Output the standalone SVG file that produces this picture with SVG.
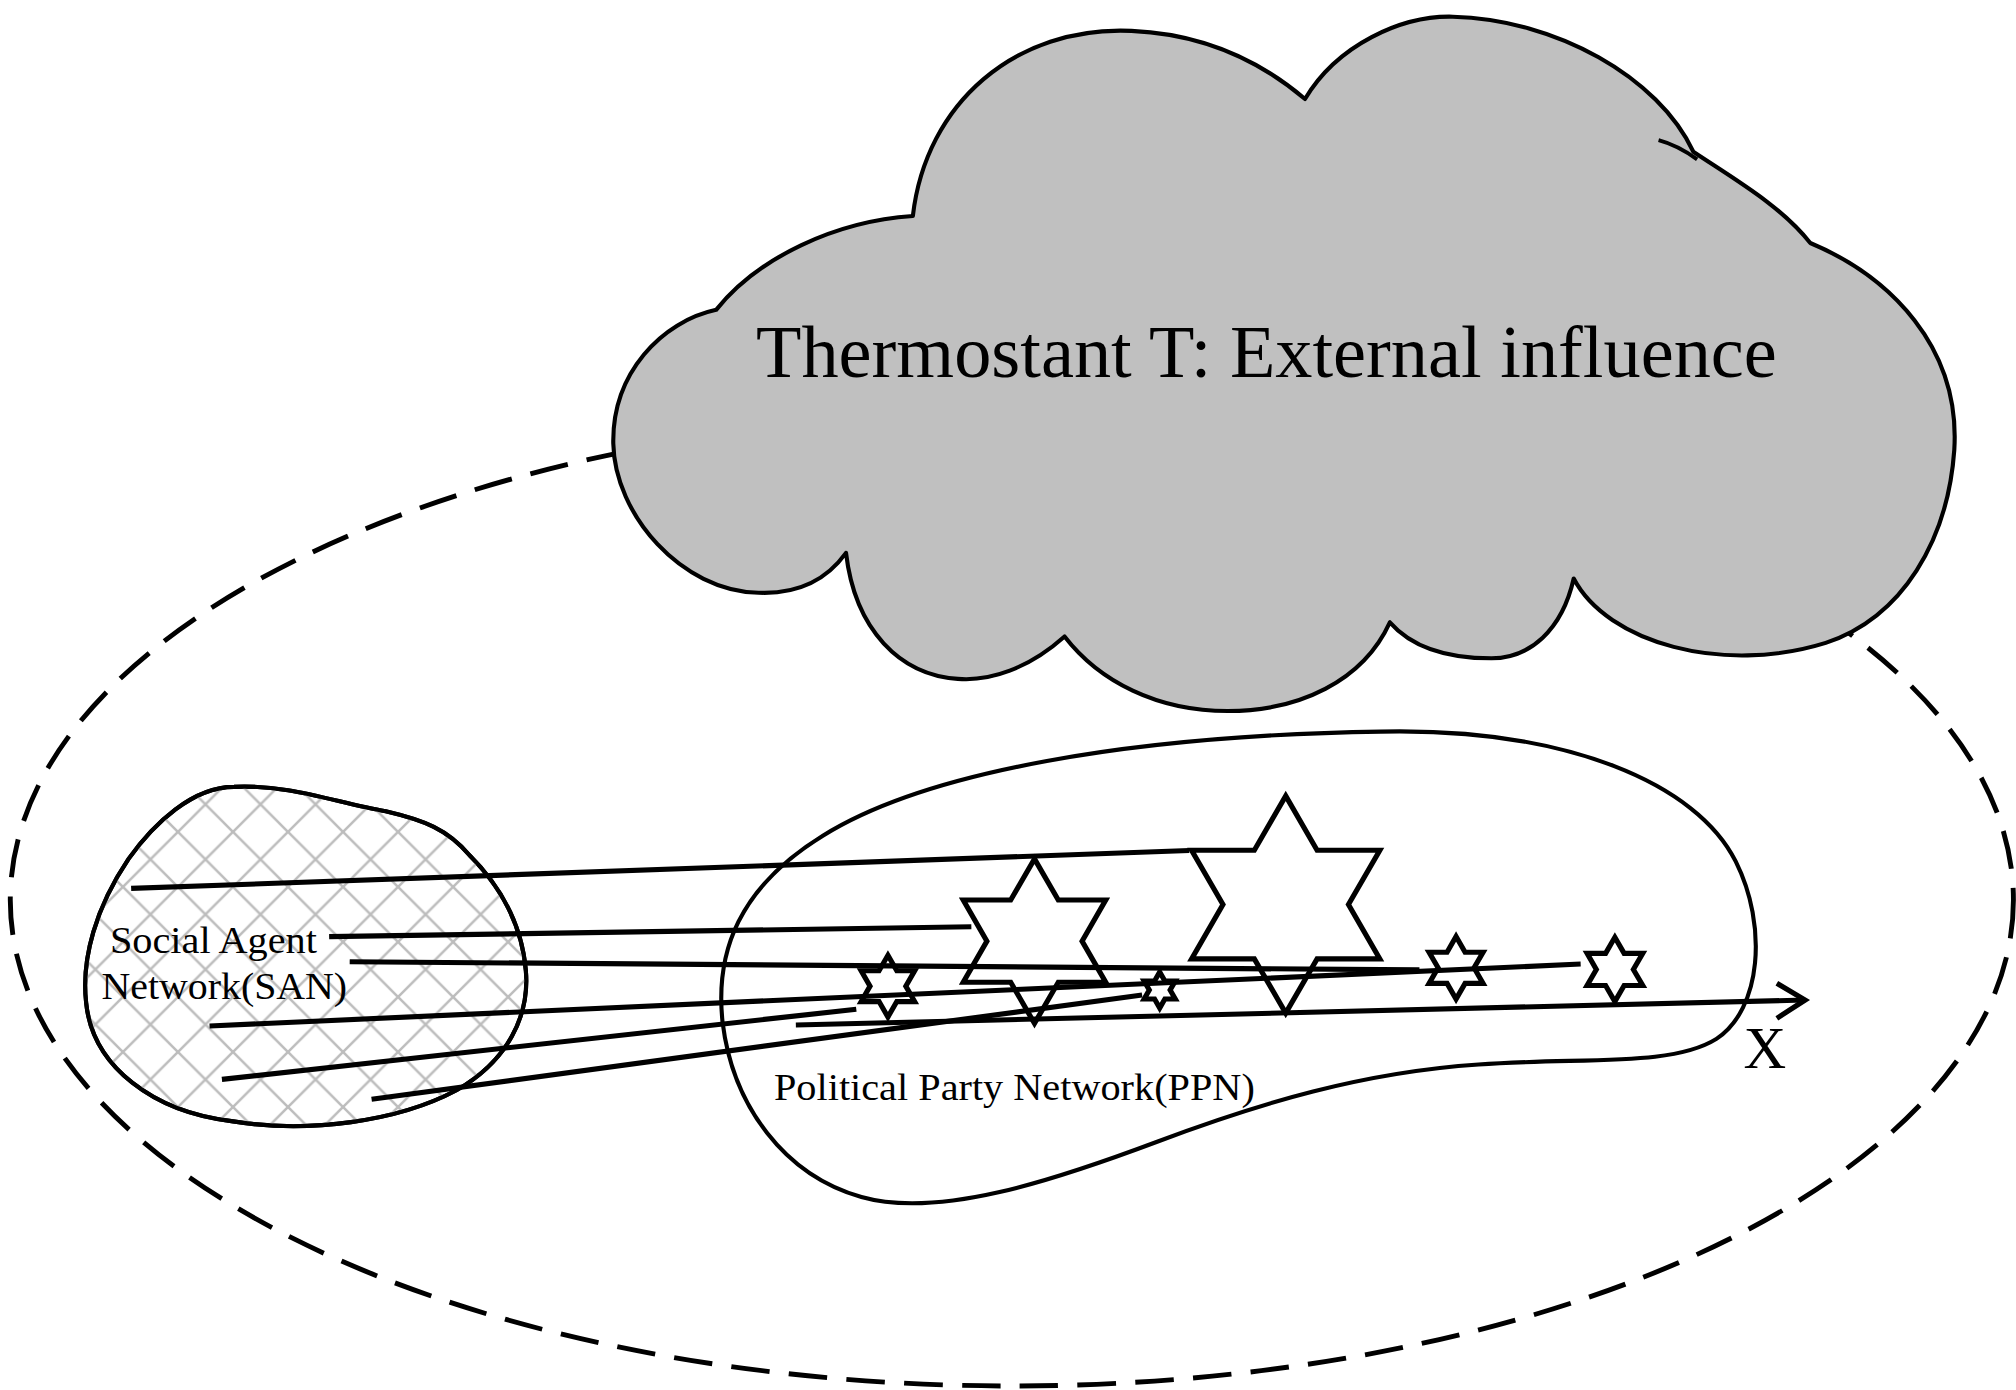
<svg xmlns="http://www.w3.org/2000/svg" width="2016" height="1390" viewBox="0 0 2016 1390">
<style>
.txt{font-family:"Liberation Serif","Times New Roman",serif;fill:#000}
.blob{stroke:#000;stroke-width:3.2;stroke-linejoin:round}
.conn{stroke:#000;stroke-width:4;fill:none;stroke-linecap:butt}
.star{fill:none;stroke:#000;stroke-width:4;stroke-linejoin:miter;stroke-miterlimit:10}
</style>
<defs>
<pattern id="hatch" patternUnits="userSpaceOnUse" x="10" y="5" width="42.8" height="42.8">
<path d="M-3,-3 L45.8,45.8 M45.8,-3 L-3,45.8" stroke="#bdbdbd" stroke-width="2" fill="none"/>
</pattern>
</defs>
<rect width="2016" height="1390" fill="#fff"/>
<g transform="scale(1.285714)">
<g id="boundary">
<ellipse cx="787" cy="700" rx="779" ry="378" fill="none" stroke="#000" stroke-width="3.8" stroke-dasharray="30 15"/>
</g>
<g id="thermostat">
<path class="blob" fill="#c0c0c0" stroke-width="3" d="M557,241 C590,200 650,172 710,168 C720,80 790,20 880,24 C950,27 995,60 1015,77 C1040,35 1090,12 1130,13 C1210,15 1290,60 1317,118 C1350,140 1385,160 1408,189 C1470,215 1525,270 1520,350 C1515,420 1480,480 1420,500 C1340,525 1250,500 1224,450 C1215,490 1190,512 1160,512 C1120,512 1095,500 1081,484 C1060,530 1010,553 955,553 C900,553 855,530 828,495 C800,520 770,530 745,528 C700,525 665,490 658,430 C640,455 615,462 590,461 C530,460 478,400 477,345 C476,290 515,250 557,241 Z"/>
<path d="M1290,109 Q1305,113 1320,124" fill="none" stroke="#000" stroke-width="3"/>
<text class="txt" x="588" y="293" font-size="58" textLength="794" lengthAdjust="spacingAndGlyphs">Thermostant T: External influence</text>
</g>
<g id="san">
<path class="blob" fill="#fff" d="M182,612 C150,612 120,640 100,668 C75,705 63,745 67,780 C72,830 120,865 180,872 C240,882 310,872 355,848 C395,825 412,790 409,755 C406,720 390,690 365,665 C348,645 330,638 300,631 C260,624 225,610 182,612 Z"/>
<path fill="url(#hatch)" stroke="none" d="M182,612 C150,612 120,640 100,668 C75,705 63,745 67,780 C72,830 120,865 180,872 C240,882 310,872 355,848 C395,825 412,790 409,755 C406,720 390,690 365,665 C348,645 330,638 300,631 C260,624 225,610 182,612 Z"/>
<path class="blob" fill="none" d="M182,612 C150,612 120,640 100,668 C75,705 63,745 67,780 C72,830 120,865 180,872 C240,882 310,872 355,848 C395,825 412,790 409,755 C406,720 390,690 365,665 C348,645 330,638 300,631 C260,624 225,610 182,612 Z"/>
<text class="txt" x="85.5" y="741" font-size="30" textLength="161" lengthAdjust="spacingAndGlyphs">Social Agent</text>
<text class="txt" x="79" y="777" font-size="30" textLength="191" lengthAdjust="spacingAndGlyphs">Network(SAN)</text>
</g>
<g id="ppn">
<path class="blob" fill="none" d="M1074,569 C1220,566 1320,610 1350,670 C1375,720 1370,785 1335,808 C1300,830 1230,822 1150,828 C1060,834 980,858 900,888 C820,918 730,948 670,931 C610,914 570,860 562,795 C556,740 575,690 640,650 C720,600 880,572 1074,569 Z"/>
<text class="txt" x="602" y="855.5" font-size="30" textLength="374" lengthAdjust="spacingAndGlyphs">Political Party Network(PPN)</text>
</g>
<g id="stars">
<polygon id="starA" class="star" stroke-width="4.4" points="1000,619 1024.4,661.3 1073.2,661.3 1048.8,703.5 1073.2,745.8 1024.4,745.8 1000,788 975.6,745.8 926.8,745.8 951.2,703.5 926.8,661.3 975.6,661.3"/>
<polygon id="starB" class="star" stroke-width="4.4" points="804.6,668 823.1,700 860,700 841.6,732 860,764 823.1,764 804.6,796 786.1,764 749.2,764 767.6,732 749.2,700 786.1,700"/>
<polygon id="starC" class="star" stroke-width="4.2" points="690.6,743 697.5,755 711.4,755 704.5,767 711.4,779 697.5,779 690.6,791 683.7,779 669.8,779 676.7,767 669.8,755 683.7,755"/>
<polygon id="starD" class="star" stroke-width="3" points="902,756 906,763 914.1,763 910.1,770 914.1,777 906,777 902,784 898,777 889.9,777 893.9,770 889.9,763 898,763"/>
<polygon id="starE" class="star" stroke-width="4.2" points="1132.5,728.4 1139.5,740.6 1153.5,740.6 1146.5,752.7 1153.5,764.9 1139.5,764.9 1132.5,777 1125.5,764.9 1111.5,764.9 1118.5,752.7 1111.5,740.6 1125.5,740.6"/>
<polygon id="starF" class="star" stroke-width="4.2" points="1256,729 1263.2,741.5 1277.7,741.5 1270.4,754 1277.7,766.5 1263.2,766.5 1256,779 1248.8,766.5 1234.4,766.5 1241.6,754 1234.4,741.5 1248.8,741.5"/>
</g>
<g id="connectors">
<line class="conn" x1="102" y1="691" x2="925" y2="661.5"/>
<line class="conn" x1="256" y1="728.5" x2="755.5" y2="720.8"/>
<line class="conn" x1="272" y1="748" x2="1104" y2="754.4"/>
<line class="conn" x1="163" y1="798" x2="1229.4" y2="749.8"/>
<line class="conn" x1="172.6" y1="839.5" x2="666" y2="785"/>
<line class="conn" x1="289" y1="855" x2="888.3" y2="773.9"/>
<line class="conn" x1="619" y1="797.2" x2="1404" y2="777.8"/>
<polyline class="conn" points="1382,764.8 1404,777.8 1382,792"/>
</g>
<g id="axis-label">
<text class="txt" x="1356" y="830.5" font-size="46">X</text>
</g>
</g>
</svg>
